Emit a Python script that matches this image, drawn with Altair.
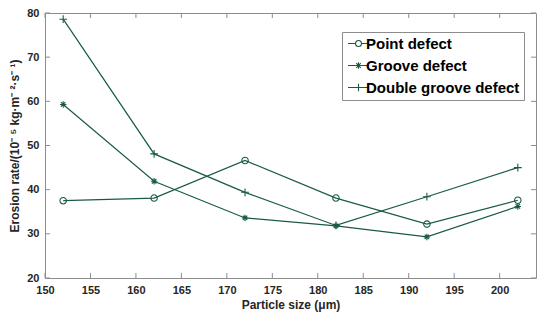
import altair as alt
import pandas as pd

sizes = [152, 162, 172, 182, 192, 202]
point_defect = [37.5, 38.1, 46.6, 38.1, 32.2, 37.6]
groove_defect = [59.3, 41.9, 33.6, 31.8, 29.3, 36.2]
double_groove_defect = [78.6, 48.1, 39.4, 31.9, 38.4, 45.0]
series = ["Point defect", "Groove defect", "Double groove defect"]
x_ticks = list(range(150, 201, 5))
y_ticks = list(range(20, 81, 10))

rows = []
for name, vals in zip(series, [point_defect, groove_defect, double_groove_defect]):
    for s, v in zip(sizes, vals):
        rows.append({"size": s, "rate": v, "series": name})
df = pd.DataFrame(rows)
xt = pd.DataFrame({"size": x_ticks})
yt = pd.DataFrame({"rate": y_ticks})

GREEN = "#1a5a44"
FRAME = "#8c8c8c"
W, H = 491, 265
FONT = "Liberation Sans"

xscale = alt.Scale(domain=[150, 204], nice=False, zero=False)
yscale = alt.Scale(domain=[20, 80], nice=False, zero=False)

X = alt.X("size:Q", scale=xscale,
          axis=alt.Axis(title="Particle size (μm)", values=x_ticks, ticks=False,
                        domain=False, grid=False, labelPadding=6, titlePadding=4,
                        labelFlush=False))
Y = alt.Y("rate:Q", scale=yscale,
          axis=alt.Axis(title="Erosion rate/(10⁻ ⁵ kg·m⁻ ²·s⁻ ¹)", values=y_ticks,
                        ticks=False, domain=False, grid=False, labelPadding=6,
                        titlePadding=5, labelFlush=False))

marker_paths = [
    "M1,0A1,1 0 1,1 -1,0A1,1 0 1,1 1,0Z",
    "M-1,0H1M0,-1V1M-0.7,-0.7L0.7,0.7M-0.7,0.7L0.7,-0.7",
    "M-1.2,0H1.2M0,-1.2V1.2",
]
legend_paths = [
    "M-3,0H-0.85M0.85,0H3M0.85,0A0.85,0.85 0 1,1 -0.85,0A0.85,0.85 0 1,1 0.85,0",
    "M-3,0H3M0,-0.9V0.9M-0.65,-0.65L0.65,0.65M-0.65,0.65L0.65,-0.65",
    "M-3,0H3M0,-1.1V1.1",
]

lines = alt.Chart(df).mark_line(color=GREEN, strokeWidth=1.2).encode(
    x=X, y=Y, detail="series:N",
)

points = alt.Chart(df).mark_point(color=GREEN, filled=False, size=42, strokeWidth=1.1, opacity=1).encode(
    x=X, y=Y,
    shape=alt.Shape("series:N", scale=alt.Scale(domain=series, range=marker_paths), legend=None),
)

legend_layer = alt.Chart(df).transform_filter("datum.size < 0").mark_point(
    color=GREEN, filled=False, strokeWidth=1.1, opacity=1
).encode(
    x=X, y=Y,
    shape=alt.Shape("series:N", scale=alt.Scale(domain=series, range=legend_paths),
                    legend=alt.Legend(title=None, orient="none", legendX=297, legendY=19,
                                      symbolSize=49, symbolOffset=5, labelOffset=0,
                                      labelFontSize=15, labelFontWeight="bold",
                                      labelFont=FONT, labelColor="#000000",
                                      padding=4, rowPadding=6,
                                      strokeColor=FRAME, fillColor="white",
                                      symbolStrokeColor=GREEN, symbolStrokeWidth=1.1,
                                      labelLimit=300)),
)

tick_style = dict(color=FRAME, strokeWidth=1)
xb = alt.Chart(xt).mark_rule(**tick_style).encode(x=X, y=alt.value(H), y2=alt.value(H - 5))
xtop = alt.Chart(xt).mark_rule(**tick_style).encode(x=X, y=alt.value(0), y2=alt.value(5))
yl = alt.Chart(yt).mark_rule(**tick_style).encode(y=Y, x=alt.value(0), x2=alt.value(5))
yr = alt.Chart(yt).mark_rule(**tick_style).encode(y=Y, x=alt.value(W), x2=alt.value(W - 5))

chart = alt.layer(xb, xtop, yl, yr, lines, points, legend_layer).resolve_scale(
    shape="independent"
).properties(
    width=W, height=H,
    autosize=alt.AutoSizeParams(type="none"),
    padding={"left": 37, "top": 5, "right": 6, "bottom": 34},
).configure_view(
    stroke=FRAME, strokeWidth=1
).configure_axis(
    labelFont=FONT, labelFontSize=11, labelFontWeight="bold", labelColor="#262626",
    titleFont=FONT, titleFontSize=12, titleFontWeight="bold", titleColor="#262626",
)

chart.save("out.html", embed_options={"renderer": "svg", "actions": False})
